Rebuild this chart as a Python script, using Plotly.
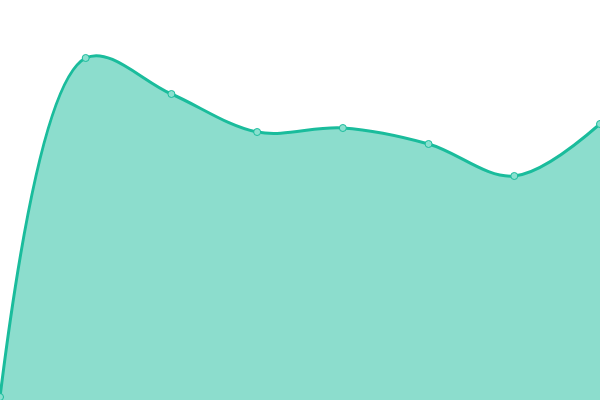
import plotly.graph_objects as go

# one point per column (chart height = 400 units)
categories = [0, 1, 2, 3, 4, 5, 6, 7]
values = [3, 342, 306, 268, 272, 256, 224, 276]

line_color = "#1abc9c"
fill_color = "rgba(26,188,156,0.5)"

fig = go.Figure()
fig.add_trace(go.Scatter(
    x=categories, y=values,
    mode="lines+markers",
    line=dict(color=line_color, width=3, shape="spline", smoothing=1),
    fill="tozeroy", fillcolor=fill_color,
    marker=dict(size=7, color="#8ae0cf", line=dict(color=line_color, width=1)),
    cliponaxis=False,
    hoverinfo="skip",
))

fig.update_layout(
    width=600, height=400,
    margin=dict(l=0, r=0, t=0, b=0),
    paper_bgcolor="white", plot_bgcolor="white",
    showlegend=False,
    xaxis=dict(range=[0, 7], visible=False, fixedrange=True),
    yaxis=dict(range=[0, 400], visible=False, fixedrange=True),
)

# drop the browser's default body margin so the chart sits at the window edge
fig.write_html("out.html", config={"displayModeBar": False},
               post_script="document.body.style.margin='0';document.body.style.overflow='hidden';")
